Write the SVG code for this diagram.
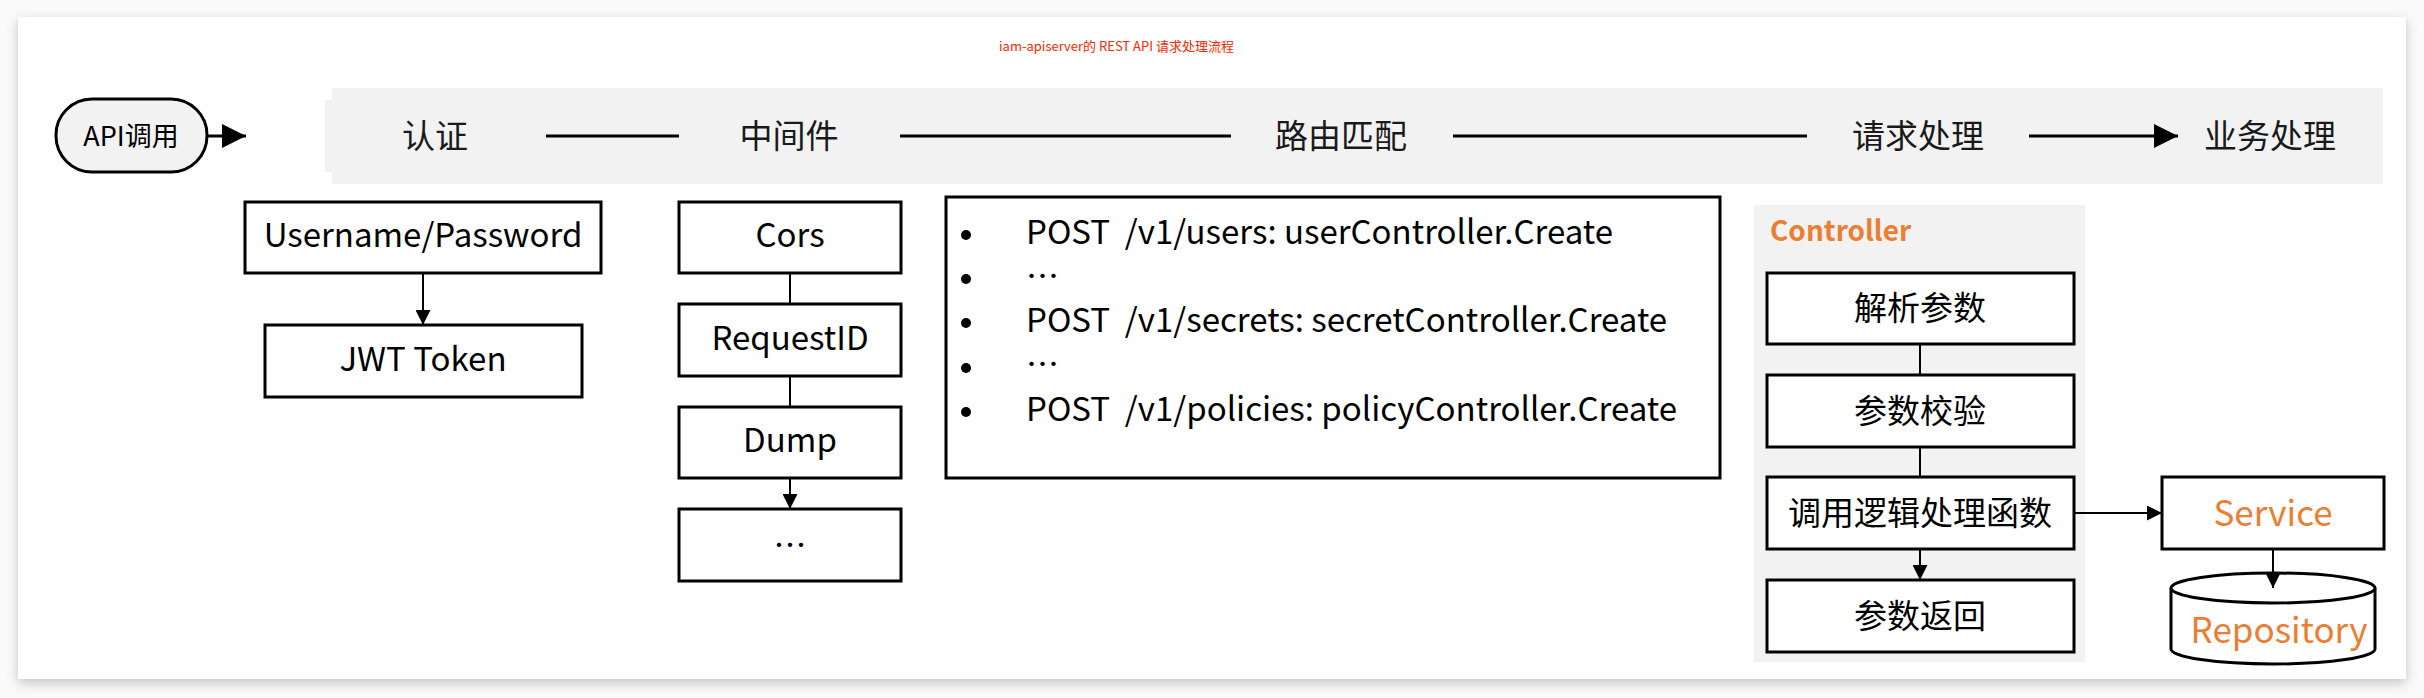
<svg xmlns="http://www.w3.org/2000/svg" width="2424" height="698" viewBox="0 0 2424 698">
<defs>
<filter id="sh" x="-5%" y="-10%" width="110%" height="120%">
<feDropShadow dx="0" dy="4" stdDeviation="6" flood-color="#000" flood-opacity="0.22"/>
</filter>
<marker id="ah" viewBox="0 0 10 10" refX="10" refY="5" markerWidth="15" markerHeight="15" markerUnits="userSpaceOnUse" orient="auto">
<path d="M0,0 L10,5 L0,10 z" fill="#000"/>
</marker>
<marker id="ah2" viewBox="0 0 10 10" refX="10" refY="5" markerWidth="8" markerHeight="8" orient="auto">
<path d="M0,0 L10,5 L0,10 z" fill="#000"/>
</marker>
</defs>
<style>
text{font-family:"Noto Sans CJK SC","Noto Sans",sans-serif;fill:#000}
.box{fill:#fff;stroke:#000;stroke-width:3}
.lbl{font-size:33px;text-anchor:middle;dominant-baseline:central}
.band{font-size:33px;text-anchor:middle;dominant-baseline:central;fill:#1a1a1a}
.org{fill:#ed7d31}
.ln{stroke:#000;stroke-width:3;fill:none}
.thin{stroke-width:2}
.route{font-size:33px;white-space:pre}
</style>
<rect width="2424" height="698" fill="#fafafa"/>
<rect x="18" y="17" width="2388" height="662" fill="#fff" filter="url(#sh)"/>
<text x="999" y="51" style="font-size:13px;fill:#ff2600">iam-apiserver的 REST API 请求处理流程</text>

<g id="band">
<rect x="325" y="100" width="10" height="72" fill="#f2f2f2"/>
<rect x="332" y="88" width="2051" height="96" fill="#f2f2f2"/>
</g>

<g id="api-call">
<rect x="56" y="99" width="151" height="73" rx="36" ry="36" fill="#f2f2f2" stroke="#000" stroke-width="3"/>
<text x="131" y="134" class="lbl" style="font-size:27px">API调用</text>
</g>
<g id="stage-auth"><text x="435" y="134" class="band">认证</text></g>
<g id="stage-middleware"><text x="789" y="134" class="band">中间件</text></g>
<g id="stage-route"><text x="1341" y="134" class="band">路由匹配</text></g>
<g id="stage-handle"><text x="1918" y="134" class="band">请求处理</text></g>
<g id="stage-biz"><text x="2270" y="134" class="band">业务处理</text></g>

<g id="n-userpass"><rect class="box" x="245" y="202" width="356" height="71"/><text x="423" y="233" class="lbl">Username/Password</text></g>
<g id="n-jwt"><rect class="box" x="265" y="325" width="317" height="72"/><text x="423" y="357" class="lbl">JWT Token</text></g>

<g id="n-cors"><rect class="box" x="679" y="202" width="222" height="71"/><text x="790" y="233" class="lbl">Cors</text></g>
<g id="n-reqid"><rect class="box" x="679" y="304" width="222" height="72"/><text x="790" y="336" class="lbl">RequestID</text></g>
<g id="n-dump"><rect class="box" x="679" y="407" width="222" height="71"/><text x="790" y="438" class="lbl">Dump</text></g>
<g id="n-more"><rect class="box" x="679" y="509" width="222" height="72"/><text x="790" y="543" class="lbl">…</text></g>

<g id="n-routes">
<rect class="box" x="946" y="197" width="774" height="281"/>
<g fill="#000">
<circle cx="966" cy="235" r="5"/><circle cx="966" cy="279" r="5"/><circle cx="966" cy="323" r="5"/><circle cx="966" cy="368" r="5"/><circle cx="966" cy="412" r="5"/>
</g>
<text class="route" x="1026" y="244" xml:space="preserve">POST  /v1/users: userController.Create</text>
<text class="route" x="1026" y="288">…</text>
<text class="route" x="1026" y="332" xml:space="preserve">POST  /v1/secrets: secretController.Create</text>
<text class="route" x="1026" y="376">…</text>
<text class="route" x="1026" y="421" xml:space="preserve">POST  /v1/policies: policyController.Create</text>
</g>

<g id="controller">
<rect x="1754" y="205" width="331" height="457" fill="#f2f2f2"/>
<text x="1770" y="241" class="org" style="font-size:28px;font-weight:bold">Controller</text>
</g>
<g id="n-parse"><rect class="box" x="1767" y="273" width="307" height="71"/><text x="1920" y="306" class="lbl">解析参数</text></g>
<g id="n-validate"><rect class="box" x="1767" y="375" width="307" height="72"/><text x="1920" y="409" class="lbl">参数校验</text></g>
<g id="n-call"><rect class="box" x="1767" y="477" width="307" height="72"/><text x="1920" y="511" class="lbl">调用逻辑处理函数</text></g>
<g id="n-return"><rect class="box" x="1767" y="580" width="307" height="72"/><text x="1920" y="614" class="lbl">参数返回</text></g>

<g id="n-service"><rect class="box" x="2162" y="477" width="222" height="72"/><text x="2273" y="510" class="lbl org" style="font-size:35px">Service</text></g>
<g id="n-repo">
<path d="M2171,588 L2171,649 A102,15 0 0 0 2375,649 L2375,588" fill="#fff" stroke="#000" stroke-width="3"/>
<ellipse cx="2273" cy="588" rx="102" ry="15" fill="#fff" stroke="#000" stroke-width="3"/>
<text x="2279" y="627" class="lbl org" style="font-size:35px">Repository</text>
</g>

<g id="connectors">
<line class="ln" x1="207" y1="136" x2="246" y2="136" marker-end="url(#ah2)"/>
<line class="ln" x1="546" y1="136" x2="679" y2="136"/>
<line class="ln" x1="900" y1="136" x2="1231" y2="136"/>
<line class="ln" x1="1453" y1="136" x2="1807" y2="136"/>
<line class="ln" x1="2029" y1="136" x2="2178" y2="136" marker-end="url(#ah2)"/>
<line class="ln thin" x1="423" y1="273" x2="423" y2="325" marker-end="url(#ah)"/>
<line class="ln thin" x1="790" y1="273" x2="790" y2="304"/>
<line class="ln thin" x1="790" y1="376" x2="790" y2="407"/>
<line class="ln thin" x1="790" y1="478" x2="790" y2="509" marker-end="url(#ah)"/>
<line class="ln thin" x1="1920" y1="344" x2="1920" y2="375"/>
<line class="ln thin" x1="1920" y1="447" x2="1920" y2="477"/>
<line class="ln thin" x1="1920" y1="549" x2="1920" y2="580" marker-end="url(#ah)"/>
<line class="ln thin" x1="2074" y1="513" x2="2162" y2="513" marker-end="url(#ah)"/>
<line class="ln thin" x1="2273" y1="549" x2="2273" y2="588" marker-end="url(#ah)"/>
</g>
</svg>
